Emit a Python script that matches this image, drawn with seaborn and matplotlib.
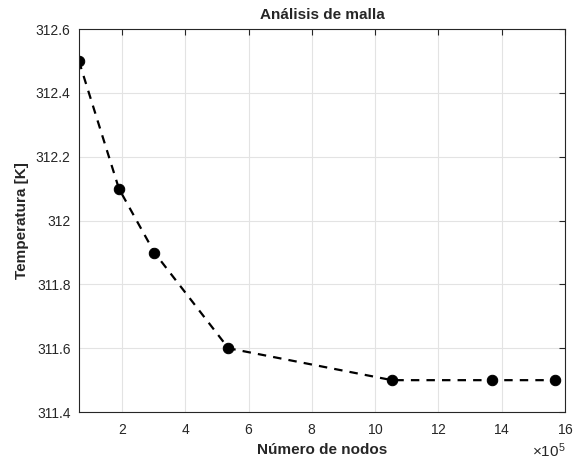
import pandas as pd
import seaborn as sns
from matplotlib import pyplot as plt
from matplotlib.ticker import ScalarFormatter, FuncFormatter

# Datos
nodos = [0.635e5, 1.9e5, 3.02e5, 5.36e5, 10.53e5, 13.7e5, 15.68e5]
temperatura = [312.5, 312.1, 311.9, 311.6, 311.5, 311.5, 311.5]
x_ticks = [2e5, 4e5, 6e5, 8e5, 10e5, 12e5, 14e5, 16e5]
y_ticks = [311.4, 311.6, 311.8, 312.0, 312.2, 312.4, 312.6]

df = pd.DataFrame({"nodos": nodos, "temperatura": temperatura})

sns.set_style("white")
plt.rcParams["font.family"] = ["Liberation Sans", "DejaVu Sans"]
plt.rcParams["mathtext.fontset"] = "custom"
plt.rcParams["mathtext.rm"] = "Liberation Sans"

fig = plt.figure(figsize=(5.76, 4.63), dpi=100)
ax = fig.add_axes([0.137, 0.110, 0.844, 0.827])

sns.lineplot(data=df, x="nodos", y="temperatura", ax=ax, color="black",
             linewidth=1.6, marker="o", markersize=7.5, markeredgecolor="black",
             dashes=False)
ax.lines[0].set_dashes((3.8, 3.2))

ax.set_xlim(0.635e5, 16e5)
ax.set_ylim(311.4, 312.6)
ax.set_xticks(x_ticks)
ax.set_yticks(y_ticks)

# exponente fijo 10^5 como en MATLAB
fmt = ScalarFormatter(useMathText=True)
fmt.set_powerlimits((5, 5))
ax.xaxis.set_major_formatter(fmt)
ax.yaxis.set_major_formatter(FuncFormatter(lambda v, _: f"{v:g}"))

ax.grid(True, color="#e3e3e3", linewidth=0.8)
for s in ax.spines.values():
    s.set_color("#262626")
    s.set_linewidth(0.8)
ax.tick_params(direction="in", length=4, width=0.8, colors="#262626",
               labelsize=10, top=True, right=True, pad=6)
ax.tick_params(axis="x", pad=8)
ax.xaxis.get_offset_text().set_fontsize(11)
ax.xaxis.get_offset_text().set_color("#262626")

ax.set_title("Análisis de malla", fontsize=11, fontweight="bold", pad=7)
ax.set_xlabel("Número de nodos", fontsize=11, fontweight="bold", labelpad=4)
ax.set_ylabel("Temperatura [K]", fontsize=11, fontweight="bold", labelpad=5)

plt.savefig("out.png", dpi=100)
